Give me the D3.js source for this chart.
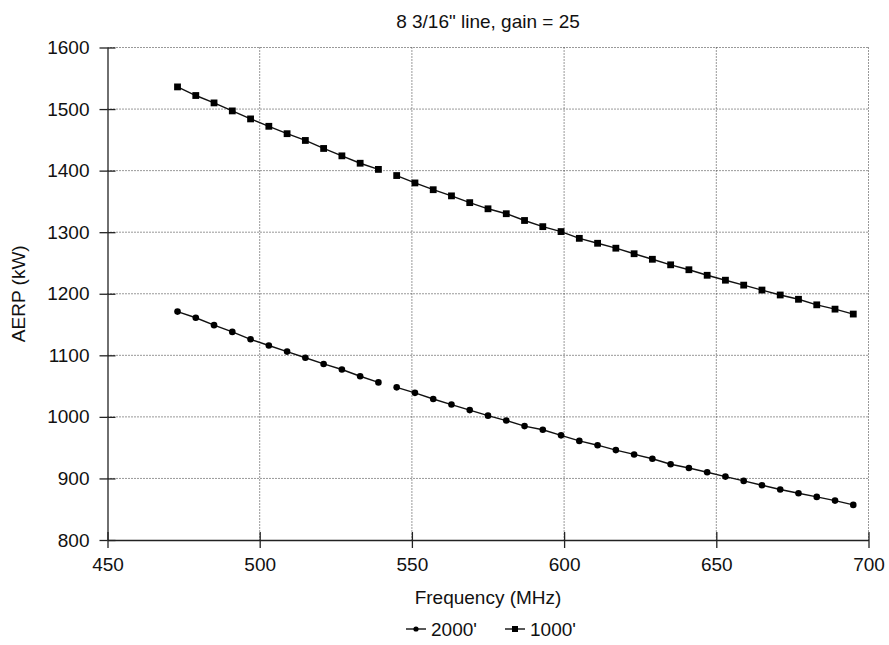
<!DOCTYPE html>
<html><head><meta charset="utf-8">
<script src="https://cdn.jsdelivr.net/npm/d3@7"></script>
<style>body{margin:0;background:#fff} text{font-family:"Liberation Sans",Arial,Helvetica,sans-serif;fill:#111}</style>
</head><body><svg id="c" width="889" height="645"></svg>
<script>
const title = "8 3/16\" line, gain = 25";
const xLabel = "Frequency (MHz)";
const yLabel = "AERP (kW)";
const frequencies = [473,479,485,491,497,503,509,515,521,527,533,539,
  545,551,557,563,569,575,581,587,593,599,605,611,617,623,629,635,641,647,653,659,665,671,677,683,689,695];
const aerp2000 = [1171,1161,1149,1138,1126,1116,1106,1096,1086,1077,1066,1056,
  1048,1039,1029,1020,1011,1002,994,985,979,970,961,954,946,939,932,923,917,910,903,896,889,882,876,870,864,857];
const aerp1000 = [1536,1522,1510,1497,1484,1472,1460,1449,1436,1424,1412,1402,
  1392,1380,1369,1359,1348,1338,1330,1319,1309,1301,1290,1282,1274,1265,1256,1247,1239,1230,1222,1214,1206,1198,1191,1182,1175,1167];
const seriesNames = ["2000'", "1000'"];
const xTicks = [450,500,550,600,650,700];
const yTicks = [800,900,1000,1100,1200,1300,1400,1500,1600];
const gapAfter = 539;

const svg = d3.select("#c");
const L = 107.5, R = 868.5, T = 47.5, B = 540;
const x = d3.scaleLinear().domain([450,700]).range([L,R]);
const y = d3.scaleLinear().domain([800,1600]).range([B,T]);
const fs = 19;

// grid
const g = svg.append("g");
g.selectAll(".gx").data(xTicks.filter(d=>d!==450)).enter().append("line")
  .attr("x1",d=>x(d)).attr("x2",d=>x(d)).attr("y1",T).attr("y2",B)
  .attr("stroke","#333").attr("stroke-width",1).attr("stroke-dasharray","1,2");
g.selectAll(".gy").data(yTicks.filter(d=>d!==800)).enter().append("line")
  .attr("y1",d=>y(d)).attr("y2",d=>y(d)).attr("x1",L).attr("x2",R)
  .attr("stroke","#333").attr("stroke-width",1).attr("stroke-dasharray","1,2");

// axes
const ax = svg.append("g").attr("transform",`translate(0,${B})`)
  .call(d3.axisBottom(x).tickValues(xTicks).tickFormat(d3.format("d")).tickSize(8).tickSizeOuter(0).tickPadding(10));
const ay = svg.append("g").attr("transform",`translate(${L},0)`)
  .call(d3.axisLeft(y).tickValues(yTicks).tickFormat(d3.format("d")).tickSize(8).tickSizeOuter(0).tickPadding(10));
[ax,ay].forEach(a=>{
  a.selectAll("text").style("font-size",fs+"px").attr("fill","#111");
  a.selectAll("line,path").attr("stroke","#222").attr("stroke-width",1.3);
});
ax.selectAll(".tick").append("line").attr("y1",0).attr("y2",-8).attr("stroke","#222").attr("stroke-width",1.3);
ay.selectAll(".tick").append("line").attr("x1",0).attr("x2",8).attr("stroke","#222").attr("stroke-width",1.3);

// series
const line = d3.line().x(d=>x(d.f)).y(d=>y(d.v));
function drawSeries(vals, shape){
  const pts = frequencies.map((f,i)=>({f, v: vals[i]}));
  const segs = [pts.filter(p=>p.f<=gapAfter), pts.filter(p=>p.f>gapAfter)];
  segs.forEach(s=>svg.append("path").datum(s).attr("d",line)
    .attr("fill","none").attr("stroke","#111").attr("stroke-width",1.4));
  if(shape==="circle"){
    svg.selectAll(null).data(pts).enter().append("circle")
      .attr("cx",d=>x(d.f)).attr("cy",d=>y(d.v)).attr("r",3.3).attr("fill","#000");
  } else {
    svg.selectAll(null).data(pts).enter().append("rect")
      .attr("x",d=>x(d.f)-3.4).attr("y",d=>y(d.v)-3.4).attr("width",6.8).attr("height",6.8).attr("fill","#000");
  }
}
drawSeries(aerp2000,"circle");
drawSeries(aerp1000,"square");

// texts
svg.append("text").attr("x",(L+R)/2).attr("y",28).attr("text-anchor","middle").style("font-size",fs+"px").text(title);
svg.append("text").attr("x",(L+R)/2).attr("y",604).attr("text-anchor","middle").style("font-size",fs+"px").text(xLabel);
svg.append("text").attr("transform",`translate(25,${(T+B)/2}) rotate(-90)`).attr("text-anchor","middle").style("font-size",fs+"px").text(yLabel);

// legend
const leg = [{name:seriesNames[0],shape:"circle",x0:406},{name:seriesNames[1],shape:"square",x0:505}];
const ly = 629;
leg.forEach(l=>{
  svg.append("line").attr("x1",l.x0).attr("x2",l.x0+20).attr("y1",ly).attr("y2",ly).attr("stroke","#111").attr("stroke-width",1.4);
  if(l.shape==="circle") svg.append("circle").attr("cx",l.x0+10).attr("cy",ly).attr("r",2.6).attr("fill","#000");
  else svg.append("rect").attr("x",l.x0+10-3).attr("y",ly-3).attr("width",6).attr("height",6).attr("fill","#000");
  svg.append("text").attr("x",l.x0+25).attr("y",ly+7).style("font-size",fs+"px").text(l.name);
});
</script></body></html>
